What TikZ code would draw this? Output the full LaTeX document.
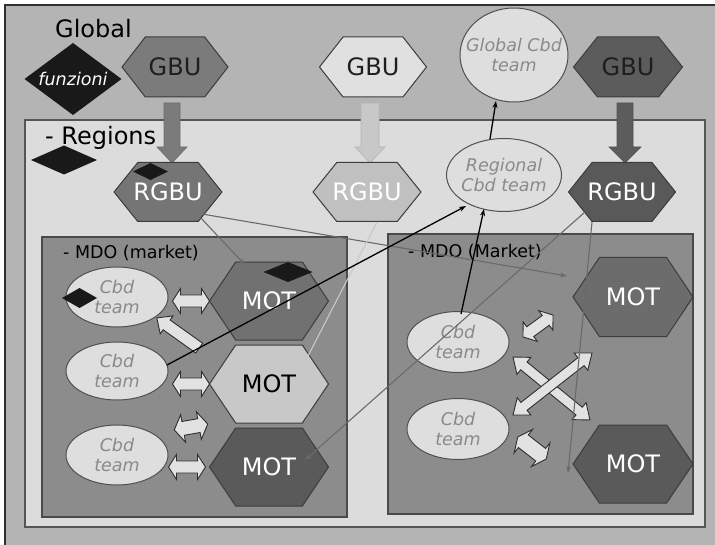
\documentclass[tikz,border=0pt]{standalone}
\usepackage{fontspec}
\setmainfont{DejaVu Sans}
\usetikzlibrary{calc,arrows.meta,shapes.geometric}
\definecolor{outerbg}{HTML}{B4B4B4}
\definecolor{outerline}{HTML}{303030}
\definecolor{regbg}{HTML}{DCDCDC}
\definecolor{regline}{HTML}{555555}
\definecolor{mdobg}{HTML}{8C8C8C}
\definecolor{mdoline}{HTML}{4A4A4A}
\definecolor{hexborder}{HTML}{3C3C3C}
\definecolor{elfill}{HTML}{DEDEDE}
\definecolor{eltext}{HTML}{8A8A8A}
\definecolor{bordergray}{HTML}{505050}
\definecolor{linegray}{HTML}{6A6A6A}
\definecolor{lightline}{HTML}{C8C8C8}
\definecolor{arrowfill}{HTML}{E2E2E2}
\definecolor{arrowborder}{HTML}{2E2E2E}
\definecolor{darktext}{HTML}{1E1E1E}
\definecolor{gA}{HTML}{7B7B7B}
\definecolor{gB}{HTML}{E0E0E0}
\definecolor{gC}{HTML}{5C5C5C}
\definecolor{rA}{HTML}{757575}
\definecolor{rB}{HTML}{C0C0C0}
\definecolor{rC}{HTML}{595959}
\definecolor{mA}{HTML}{717171}
\definecolor{mB}{HTML}{C8C8C8}
\definecolor{mC}{HTML}{5A5A5A}
\definecolor{mD}{HTML}{6C6C6C}
\newcommand\bigf{\fontsize{24bp}{28bp}\selectfont}
\newcommand\midf{\fontsize{17.5bp}{20bp}\selectfont}
\newcommand\hexnode[8]{%
  \filldraw[draw=hexborder, line width=1bp, fill=#6]
    ({#2-#4/2},#3) -- ({#2-#4/2+0.22*#4},{#3-#5/2}) -- ({#2+#4/2-0.22*#4},{#3-#5/2})
    -- ({#2+#4/2},#3) -- ({#2+#4/2-0.22*#4},{#3+#5/2}) -- ({#2-#4/2+0.22*#4},{#3+#5/2}) -- cycle;
  \node[hexlabel, text=#7, minimum width=#4 bp, minimum height=#5 bp] (#1) at (#2,#3) {#8};}
\newcommand\dblarr[8][]{%
  \begin{scope}[shift={(#2,#3)},rotate=#4]
  \filldraw[blockarrow,#1] (-#5,0) -- ({-#5+#8},{-#7}) -- ({-#5+#8},{-#6}) -- ({#5-#8},{-#6})
    -- ({#5-#8},{-#7}) -- (#5,0) -- ({#5-#8},#7) -- ({#5-#8},#6) -- ({-#5+#8},#6) -- ({-#5+#8},#7) -- cycle;
  \end{scope}}
\newcommand\sglarr[8][]{%
  \begin{scope}[shift={(#2,#3)},rotate=#4]
  \filldraw[blockarrow,#1] (-#5,{-#6}) -- ({#5-#8},{-#6}) -- ({#5-#8},{-#7}) -- (#5,0)
    -- ({#5-#8},#7) -- ({#5-#8},#6) -- (-#5,#6) -- cycle;
  \end{scope}}
\newcommand\diam[4]{%
  \fill[black!90] ({#1-#3/2},#2) -- (#1,{#2-#4/2}) -- ({#1+#3/2},#2) -- (#1,{#2+#4/2}) -- cycle;}
\begin{document}
\begin{tikzpicture}[x=1bp,y=-1bp,
  hexlabel/.style={inner sep=0pt, font=\bigf},
  ell/.style={ellipse, draw=bordergray, line width=1bp, fill=elfill, inner sep=0pt},
  elltext/.style={inner sep=0pt, align=center, font=\midf\itshape, text=eltext},
  heading/.style={inner sep=0pt, anchor=base west, text=black},
  thinline/.style={line width=1.1bp, draw=linegray},
  tip/.style={-{Stealth[length=7bp,width=5bp]}},
  blockarrow/.style={draw=arrowborder, line width=0.9bp, fill=arrowfill, line join=miter},
  thick arrow/.style={line width=0.6bp}]
\useasboundingbox (0,0) rectangle (715,545);
\clip (0,0) rectangle (715,545);
% background frames
\filldraw[fill=outerbg, draw=outerline, line width=2bp] (5,5) rectangle (730,560);
\filldraw[fill=regbg, draw=regline, line width=1.5bp] (25,120) rectangle (705,527);
\filldraw[fill=mdobg, draw=mdoline, line width=1.5bp] (42,237) rectangle (347,517);
\filldraw[fill=mdobg, draw=mdoline, line width=1.5bp] (388,234) rectangle (693,514);
% thick GBU -> RGBU arrows
\sglarr[fill=gA, draw=gA!90!black, thick arrow]{172}{133}{-90}{30}{8}{15}{16}
\sglarr[fill=mB, draw=mB!90!black, thick arrow]{370}{133}{-90}{30}{9}{15}{16}
\sglarr[fill=gC, draw=gC!90!black, thick arrow]{625}{133}{-90}{30}{8}{16}{16}
% hexagons
\hexnode{gbu1}{175}{67}{106}{60}{gA}{darktext}{GBU}
\hexnode{gbu2}{373}{67}{107}{60}{gB}{darktext}{GBU}
\hexnode{gbu3}{628}{67}{109}{60}{gC}{darktext}{GBU}
\hexnode{r1}{168}{192}{108}{59}{rA}{white}{RGBU}
\hexnode{r2}{367}{192}{108}{59}{rB}{white}{RGBU}
\hexnode{r3}{622}{192}{107}{59}{rC}{white}{RGBU}
\hexnode{mot1}{269}{301}{119}{78}{mA}{white}{MOT}
\hexnode{mot2}{269}{384}{119}{78}{mB}{black}{MOT}
\hexnode{mot3}{269}{467}{119}{78}{mC}{white}{MOT}
\hexnode{motr1}{633}{297}{120}{79}{mD}{white}{MOT}
\hexnode{motr2}{633}{464}{120}{78}{mC}{white}{MOT}
% ellipses
\node[ell, minimum width=108bp, minimum height=94bp] (gcbd) at (514,55) {};
\node[elltext] (gcbdt) at (gcbd) {Global Cbd\\team};
\node[ell, minimum width=115bp, minimum height=73bp] (reg) at (504,175) {};
\node[elltext] (regt) at (reg) {Regional\\Cbd team};
\node[ell, minimum width=102bp, minimum height=60bp] (e1) at (117,297) {};
\node[elltext] (e1t) at (e1) {Cbd\\team};
\node[ell, minimum width=102bp, minimum height=58bp] (e2) at (117,371) {};
\node[elltext] (e2t) at (e2) {Cbd\\team};
\node[ell, minimum width=102bp, minimum height=60bp] (e3) at (117,455) {};
\node[elltext] (e3t) at (e3) {Cbd\\team};
\node[ell, minimum width=102bp, minimum height=61bp] (er1) at (458,342) {};
\node[elltext] (er1t) at (er1) {Cbd\\team};
\node[ell, minimum width=102bp, minimum height=61bp] (er2) at (458,429) {};
\node[elltext] (er2t) at (er2) {Cbd\\team};
% block arrows, left market
\dblarr{191}{301}{0}{18.5}{6}{12.5}{8}
\sglarr{178}{333}{144.5}{26}{6}{11}{12}
\dblarr{191}{384}{0}{18.5}{6}{12.5}{8}
\dblarr{191}{427}{10}{17}{7}{14}{9}
\dblarr{187}{467}{0}{18.5}{6}{12.5}{8}
% block arrows, right market
\dblarr{538}{326}{36}{18.6}{6}{12}{9}
\dblarr{551.5}{388.5}{-39.3}{49.7}{5}{11}{14}
\dblarr{552.5}{384}{38.1}{50.2}{5}{11}{14}
\dblarr{532}{448}{-38}{18}{8}{15}{7}
% diamonds
\diam{73}{79}{97}{72}
\node[inner sep=0pt, font=\midf\itshape, text=white] (funz) at (73,79) {funzioni};
\diam{64}{160}{66}{29}
\diam{150.5}{171.5}{35}{17}
\diam{288}{272}{49}{20}
\diam{79.5}{298}{35}{20}
% headings
\node[heading, font=\bigf] (glob) at (55,38) {Global};
\node[heading, font=\bigf] (regs) at (45,145) {- Regions};
\node[heading, font=\midf] (mdol) at (63,259) {- MDO (market)};
\node[heading, font=\midf] (mdor) at (408,258) {- MDO (Market)};
% thin connectors
\draw[thinline, tip] ($(r1)+(32,25)$) -- ($(mot1)+(-24,-36)$);
\draw[thinline, tip] ($(r1)+(34,22)$) -- ($(motr1)+(-66,-21)$);
\draw[thinline, draw=lightline] ($(r2)+(10,30)$) -- ($(mot2)+(39,-28)$);
\draw[thinline, tip] ($(r3)+(-37,20)$) -- ($(mot3)+(36,-7)$);
\draw[thinline, tip] ($(r3)+(-30,30)$) -- ($(motr2)+(-65,9)$);
\draw[line width=1.3bp, draw=black, tip] ($(e2)+(50,-6)$) -- ($(reg)+(-38,31)$);
\draw[line width=1.3bp, draw=black, tip] ($(er1)+(3,-28)$) -- ($(reg)+(-20,34)$);
\draw[line width=1.3bp, draw=black, tip] ($(reg)+(-14,-36)$) -- ($(gcbd)+(-18,46)$);
\end{tikzpicture}
\end{document}
